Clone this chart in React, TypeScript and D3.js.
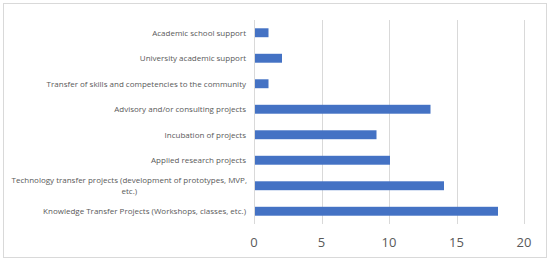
import React, { useEffect, useRef } from 'react';
import * as d3 from 'd3';

// categories top to bottom
const categories: string[][] = [
  ['Academic school support'],
  ['University academic support'],
  ['Transfer of skills and competencies to the community'],
  ['Advisory and/or consulting projects'],
  ['Incubation of projects'],
  ['Applied research projects'],
  ['Technology transfer projects (development of prototypes, MVP,', 'etc.)'],
  ['Knowledge Transfer Projects (Workshops, classes, etc.)'],
];
const values: number[] = [1, 2, 1, 13, 9, 10, 14, 18];
const ticks: number[] = [0, 5, 10, 15, 20];

const App = () => {
  const ref = useRef<SVGSVGElement | null>(null);

  useEffect(() => {
    if (!ref.current) return;
    const svg = d3.select(ref.current);
    svg.selectAll('*').remove();

    const W = 550, H = 262;
    const margin = { top: 20, right: 26, bottom: 38, left: 254 };
    const width = W - margin.left - margin.right;
    const height = H - margin.top - margin.bottom;

    // chart border
    svg.append('rect')
      .attr('x', 3.5).attr('y', 3.5)
      .attr('width', 543).attr('height', 254)
      .attr('fill', '#fff').attr('stroke', '#d9d9d9');

    const g = svg.append('g').attr('transform', `translate(${margin.left},${margin.top})`);

    const x = d3.scaleLinear().domain([0, 20]).range([0, width]);
    const keys = categories.map((c) => c.join(' '));
    const y = d3.scaleBand().domain(keys).range([0, height]).paddingInner(0.65).paddingOuter(0.325);

    // gridlines
    g.selectAll('line.grid')
      .data(ticks)
      .enter()
      .append('line')
      .attr('x1', (d) => Math.round(x(d)) + 0.5)
      .attr('x2', (d) => Math.round(x(d)) + 0.5)
      .attr('y1', 0)
      .attr('y2', height)
      .attr('stroke', '#d9d9d9')
      .attr('stroke-width', 1);

    // bars
    g.selectAll('rect.bar')
      .data(values)
      .enter()
      .append('rect')
      .attr('x', x(0) + 1)
      .attr('y', (_, i) => y(keys[i]) as number)
      .attr('width', (d) => x(d) - x(0))
      .attr('height', y.bandwidth())
      .attr('fill', '#4472c4');

    // x tick labels
    g.selectAll('text.tick')
      .data(ticks)
      .enter()
      .append('text')
      .attr('x', (d) => x(d))
      .attr('y', height + 23)
      .attr('text-anchor', 'middle')
      .style('font-family', 'Open Sans, sans-serif')
      .style('font-size', '13px')
      .style('fill', '#595959')
      .text((d) => d);

    // category labels
    categories.forEach((lines, i) => {
      const cy = (y(keys[i]) as number) + y.bandwidth() / 2;
      const lh = 11.4;
      const t = g.append('text')
        .style('font-family', 'Open Sans, sans-serif')
        .style('font-size', '8px')
        .style('fill', '#595959');
      if (lines.length === 1) {
        t.attr('x', -8).attr('y', cy).attr('dy', '0.35em').attr('text-anchor', 'end').text(lines[0]);
      } else {
        const first = t.append('tspan').attr('x', -7).attr('y', cy - lh / 2).attr('dy', '0.35em')
          .attr('text-anchor', 'end').text(lines[0]);
        const w = (first.node() as SVGTSpanElement).getComputedTextLength();
        lines.slice(1).forEach((ln, j) => {
          t.append('tspan').attr('x', -7 - w / 2).attr('y', cy - lh / 2 + lh * (j + 1)).attr('dy', '0.35em')
            .attr('text-anchor', 'middle').text(ln);
        });
      }
    });
  }, []);

  return (
    <svg ref={ref} width={550} height={262} style={{ position: 'absolute', left: 0, top: 0, background: '#fff' }} />
  );
};

export default App;
